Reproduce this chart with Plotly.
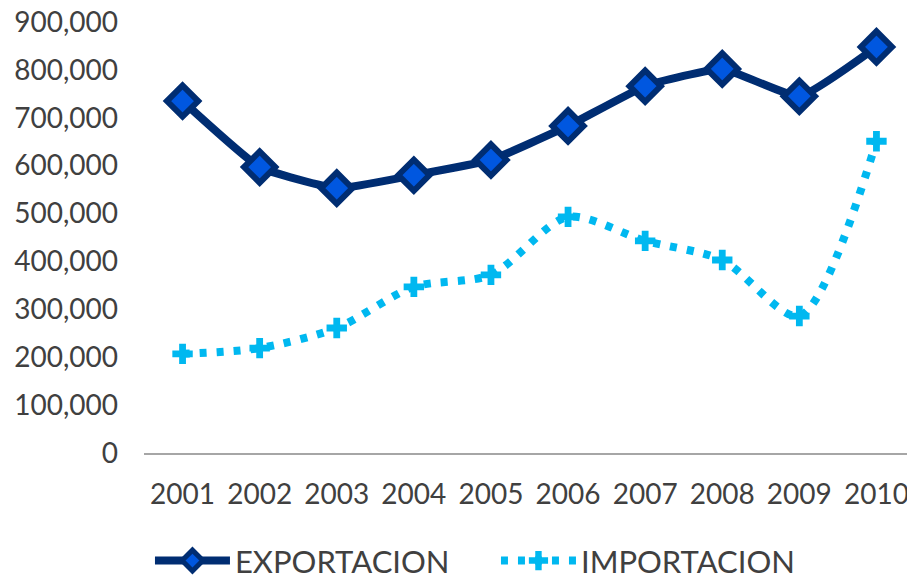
import plotly.graph_objects as go

years = ["2001", "2002", "2003", "2004", "2005", "2006", "2007", "2008", "2009", "2010"]
exportacion = [735000, 597000, 553000, 580000, 612000, 683000, 766000, 802000, 745000, 848000]
importacion = [207000, 219000, 261000, 347000, 372000, 493000, 443000, 403000, 286000, 651000]

font = "Lato, Open Sans, sans-serif"

fig = go.Figure()
fig.add_trace(go.Scatter(
    x=years, y=exportacion, name="EXPORTACION",
    mode="lines+markers",
    line=dict(color="#002D72", width=8, shape="spline", smoothing=0.4),
    marker=dict(symbol="diamond", size=24, color="#0057E0",
                line=dict(color="#002D72", width=6))
))
fig.add_trace(go.Scatter(
    x=years, y=importacion, name="IMPORTACION",
    mode="lines+markers",
    line=dict(color="#00B8F0", width=8, dash="7px,10px", shape="spline", smoothing=0.8),
    marker=dict(symbol="cross", size=17, color="#00B8F0")
))

# page body has an 8px margin, so the figure is drawn 8px smaller and offset
fig.update_layout(
    template="plotly_white",
    width=907, height=570,
    margin=dict(l=136, r=0, t=14, b=125, autoexpand=False),
    font=dict(family=font, color="#404040"),
    showlegend=True,
    legend=dict(orientation="h", xref="container", x=0.538, xanchor="center",
                yref="container", y=0.03, yanchor="middle",
                font=dict(size=31, color="#404040"), itemwidth=75,
                entrywidth=256),
    xaxis=dict(showgrid=False, showline=True, linecolor="#A6A6A6", linewidth=1.5,
               tickfont=dict(size=28), ticks="outside", ticklen=16, tickcolor="rgba(0,0,0,0)",
               range=[-0.5, 9.5], zeroline=False),
    yaxis=dict(showgrid=False, zeroline=False, range=[0, 900000], dtick=100000,
               tickformat=",", tickfont=dict(size=28), ticklabelstandoff=25,
               ticklabeloverflow="allow"),
)

fig.write_html("out.html")
